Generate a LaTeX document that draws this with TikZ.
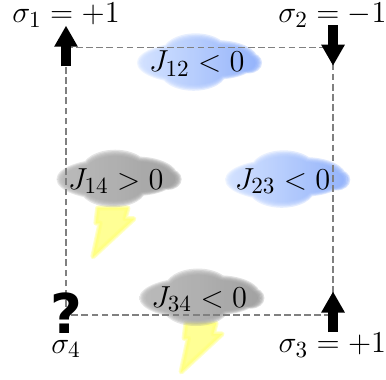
\documentclass[tikz,border=0pt]{standalone}
\usepackage{amsmath,amssymb}
\usepackage{fontspec}
\usepackage{tikz}
\usetikzlibrary{arrows.meta,positioning,calc}
\newfontfamily\qfont{DejaVu Sans}

\tikzset{
    pics/cloud/.style 2 args={code={
        \foreach \sx/\sy in {1.11/1.26,1.09/1.20,1.07/1.15,1.05/1.10,1.025/1.05,1/1}{
            \path[left color=#1, right color=#2, opacity=0.3, xscale=\sx, yscale=\sy]
                (-0.02,0.13) ellipse (0.5 and 0.26)
                (-0.1,0) ellipse (0.8 and 0.27)
                (0.3,0.04) ellipse (0.62 and 0.26)
                (-0.05,-0.12) ellipse (0.5 and 0.25)
                (0.78,0) ellipse (0.2 and 0.14);
        }
    }},
    pics/bolt/.style={code={
        \foreach \w in {2.5,1.5,0.5}{
            \fill[boltcol, draw=boltcol, line width=\w pt, opacity=0.4, line join=round]
                (0.1,0.83) -- (0.6,0.83) -- (0.55,0.65) -- (0.7,0.65) -- (0.02,0.02) -- (0.14,0.58) -- (0.07,0.58) -- cycle;
        }
    }}
}

\begin{document}
\begin{tikzpicture}[
    bond/.style={gray, dash pattern=on 3.2pt off 1.6pt, line width=0.65pt},
    spinarr/.style={-{Triangle[length=10pt,width=10.5pt]}, line width=4.7pt, black},
    lab/.style={font=\fontsize{15.5}{18}\selectfont, inner sep=0pt}
]
\definecolor{bluelight}{RGB}{205,222,255}
\definecolor{bluedark}{RGB}{135,170,250}
\definecolor{graylight}{RGB}{178,178,178}
\definecolor{graydark}{RGB}{150,150,150}
\definecolor{boltcol}{RGB}{255,255,120}
\useasboundingbox (0,0) rectangle (6.433,6.317);

\coordinate (s1) at (1.1,5.53);
\coordinate (s2) at (5.55,5.53);
\coordinate (s3) at (5.55,1.07);
\coordinate (s4) at (1.1,1.07);

% lightning first, the clouds cover their tops
\pic at (1.53,2.02) {bolt};
\pic at (3.0,0.1) {bolt};

\pic at (3.28,5.27) {cloud={bluelight}{bluedark}};
\pic at (1.94,3.33) {cloud={graylight}{graydark}};
\pic at (4.75,3.32) {cloud={bluelight}{bluedark}};
\pic at (3.32,1.35) {cloud={graylight}{graydark}};

\draw[bond] (s1) -- (s2) -- (s3) -- (s4) -- cycle;

\draw[spinarr] ($(s1)+(0,-0.32)$) -- ($(s1)+(0,0.36)$);
\draw[spinarr] ($(s2)+(0,0.37)$) -- ($(s2)+(0,-0.31)$);
\draw[spinarr] ($(s3)+(0,-0.29)$) -- ($(s3)+(0,0.39)$);

\node[font=\qfont\bfseries\fontsize{26}{26}\selectfont, inner sep=0pt] (q4) at (1.1,1.1) {?};

\node[lab] (n1) at (1.1,6.06) {$\sigma_1=+1$};
\node[lab] (n2) at (5.54,6.06) {$\sigma_2=-1$};
\node[lab] (n3) at (5.54,0.56) {$\sigma_3=+1$};
\node[lab] (n4) at (1.1,0.5) {$\sigma_4$};

\node[lab] (j12) at (3.28,5.26) {$J_{12}<0$};
\node[lab] (j14) at (1.93,3.3) {$J_{14}>0$};
\node[lab] (j23) at (4.71,3.3) {$J_{23}<0$};
\node[lab] (j34) at (3.32,1.33) {$J_{34}<0$};
\end{tikzpicture}
\end{document}
